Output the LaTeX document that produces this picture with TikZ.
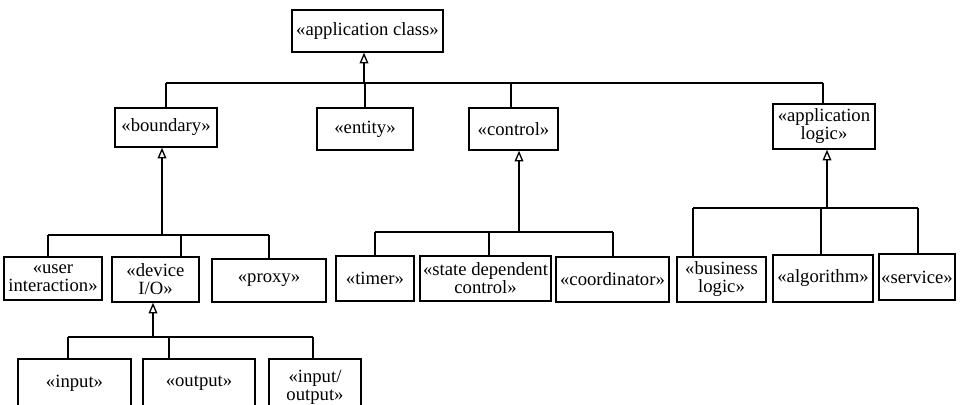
\documentclass[tikz,border=0pt]{standalone}
\usepackage{fontspec}
\setmainfont{Liberation Serif}
\usetikzlibrary{arrows.meta}

\begin{document}
\begin{tikzpicture}[x=0.75pt, y=-0.75pt]

% --- Styles ---
\tikzset{
    stereo/.style={draw, line width=1pt, align=center, inner sep=0pt,
        font=\fontsize{14}{13.5}\selectfont},
    link/.style={line width=1pt},
    inherit/.style={
        line width=1pt,
        -{Triangle[open, length=8pt, width=6.5pt]}
    }
}

\useasboundingbox (0,0) rectangle (961,404);

% Top class
\node[stereo, minimum width=113.3pt, minimum height=31.5pt] (ac) at (367.5,31) {«application class»};

% Second row
\node[stereo, minimum width=76.5pt, minimum height=29.3pt] (bnd) at (166,127.5) {«boundary»};
\node[stereo, minimum width=72pt, minimum height=31.5pt] (ent) at (365,129) {«entity»};
\node[stereo, minimum width=66.8pt, minimum height=31.5pt] (ctl) at (513.5,129) {«control»};
\node[stereo, minimum width=76.5pt, minimum height=33.8pt] (alog) at (824,126.5) {«application\\logic»};

% Third row: boundary
\node[stereo, minimum width=73.5pt, minimum height=32.3pt] (usr) at (53,278.5) {«user\\interaction»};
\node[stereo, minimum width=65.3pt, minimum height=33.8pt] (dev) at (155.5,279.5) {«device\\I/O»};
\node[stereo, minimum width=85.5pt, minimum height=32.3pt] (prx) at (269,280.5) {«proxy»};

% Third row: control
\node[stereo, minimum width=58.5pt, minimum height=33.8pt] (tmr) at (375,278.5) {«timer»};
\node[stereo, minimum width=98.3pt, minimum height=33.8pt] (sdc) at (485.5,278.5) {«state dependent\\control»};
\node[stereo, minimum width=84.8pt, minimum height=33.8pt] (crd) at (612.5,279.5) {«coordinator»};

% Third row: application logic
\node[stereo, minimum width=66.8pt, minimum height=33.8pt] (biz) at (721.5,279.5) {«business\\logic»};
\node[stereo, minimum width=75pt, minimum height=35.3pt] (alg) at (823,278.5) {«algorithm»};
\node[stereo, minimum width=57pt, minimum height=34.5pt] (svc) at (917,277) {«service»};

% Fourth row: device I/O
\node[stereo, minimum width=84.8pt, minimum height=36pt] (inp) at (74.5,383) {«input»};
\node[stereo, minimum width=84pt, minimum height=36pt] (outp) at (199,383) {«output»};
\node[stereo, minimum width=69pt, minimum height=42pt] (io) at (315,387) {«input/\\output»};

% Junctions on the top bus
\coordinate (tBnd) at (166,83);
\coordinate (tAc)  at (364,83);
\coordinate (tEnt) at (365,83);
\coordinate (tCtl) at (511,83);
\coordinate (tAlog) at (823,83);

\draw[link] (tBnd) -- (tAlog);
\draw[link] (tBnd) -- (tBnd |- bnd.north);
\draw[link] (tEnt) -- (tEnt |- ent.north);
\draw[link] (tCtl) -- (tCtl |- ctl.north);
\draw[link] (tAlog) -- (tAlog |- alog.north);
\draw[inherit] (tAc) -- (tAc |- ac.south);

% Junctions below boundary
\coordinate (bUsr) at (48,235);
\coordinate (bBnd) at (162,235);
\coordinate (bDev) at (181,235);
\coordinate (bPrx) at (269,235);

\draw[link] (bUsr) -- (bPrx);
\draw[link] (bUsr) -- (bUsr |- usr.north);
\draw[link] (bDev) -- (bDev |- dev.north);
\draw[link] (bPrx) -- (bPrx |- prx.north);
\draw[inherit] (bBnd) -- (bBnd |- bnd.south);

% Junctions below control
\coordinate (cTmr) at (375,232);
\coordinate (cSdc) at (489,232);
\coordinate (cCtl) at (519,232);
\coordinate (cCrd) at (613,232);

\draw[link] (cTmr) -- (cCrd);
\draw[link] (cTmr) -- (cTmr |- tmr.north);
\draw[link] (cSdc) -- (cSdc |- sdc.north);
\draw[link] (cCrd) -- (cCrd |- crd.north);
\draw[inherit] (cCtl) -- (cCtl |- ctl.south);

% Junctions below application logic
\coordinate (aBiz) at (693,208);
\coordinate (aAlg) at (821,208);
\coordinate (aAlog) at (827,208);
\coordinate (aSvc) at (918,208);

\draw[link] (aBiz) -- (aSvc);
\draw[link] (aBiz) -- (aBiz |- biz.north);
\draw[link] (aAlg) -- (aAlg |- alg.north);
\draw[link] (aSvc) -- (aSvc |- svc.north);
\draw[inherit] (aAlog) -- (aAlog |- alog.south);

% Junctions below device I/O
\coordinate (dInp) at (68,337);
\coordinate (dDev) at (153,337);
\coordinate (dOut) at (169,337);
\coordinate (dIo)  at (313,337);

\draw[link] (dInp) -- (dIo);
\draw[link] (dInp) -- (dInp |- inp.north);
\draw[link] (dOut) -- (dOut |- outp.north);
\draw[link] (dIo) -- (dIo |- io.north);
\draw[inherit] (dDev) -- (dDev |- dev.south);

\end{tikzpicture}
\end{document}
